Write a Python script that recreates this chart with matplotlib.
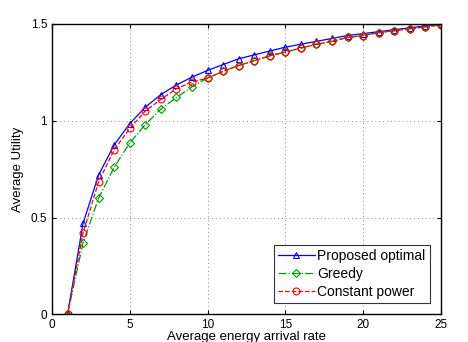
import numpy as np
import matplotlib.pyplot as plt

plt.rcParams['font.family'] = ['Liberation Sans', 'DejaVu Sans']

# energy arrival rate
rate = np.arange(1, 26)

proposed = [0, 0.47, 0.72, 0.875, 0.985, 1.07, 1.135, 1.185, 1.225, 1.26,
            1.29, 1.32, 1.34, 1.36, 1.38, 1.395, 1.41, 1.425, 1.44, 1.45,
            1.46, 1.47, 1.48, 1.49, 1.50]
greedy = [0, 0.37, 0.60, 0.76, 0.885, 0.98, 1.06, 1.12, 1.175, 1.22,
          1.255, 1.285, 1.31, 1.335, 1.355, 1.375, 1.395, 1.41, 1.43, 1.44,
          1.455, 1.465, 1.475, 1.485, 1.495]
constant = [0, 0.42, 0.685, 0.85, 0.96, 1.05, 1.11, 1.165, 1.20, 1.22,
            1.255, 1.285, 1.31, 1.335, 1.355, 1.375, 1.395, 1.41, 1.43, 1.44,
            1.455, 1.465, 1.475, 1.485, 1.495]

fig = plt.figure(figsize=(4.68, 3.42), dpi=100)
ax = fig.add_axes([0.111, 0.081, 0.831, 0.849])

ax.plot(rate, proposed, '-', color='#0000ff', lw=0.9, marker='^', ms=5,
        mfc='none', mew=0.8, label='Proposed optimal')
ax.plot(rate, greedy, '-.', color='#009900', lw=0.9, marker='D', ms=4,
        mfc='none', mew=0.8, label='Greedy')
ax.plot(rate, constant, '--', color='#ff0000', lw=0.9, marker='o', ms=5,
        mfc='none', mew=0.8, label='Constant power')

ax.set_xlim(0, 25)
ax.set_ylim(0, 1.5)
ax.set_xticks([0, 5, 10, 15, 20, 25])
ax.set_yticks([0, 0.5, 1, 1.5])
ax.set_yticklabels(['0', '0.5', '1', '1.5'])
ax.tick_params(direction='in', top=True, right=True, labelsize=8.5, length=3)
ax.grid(True, linestyle=(0, (1, 3)), color='#888888', lw=0.7)
for s in ax.spines.values():
    s.set_linewidth(1.0)

ax.set_xlabel('Average energy arrival rate', fontsize=9.5, labelpad=0)
ax.set_ylabel('Average Utility', fontsize=9.5, labelpad=5)

leg = ax.legend(loc='lower right', fontsize=10, frameon=True, fancybox=False,
                edgecolor='black', borderaxespad=0.8, handlelength=2.6,
                numpoints=1, labelspacing=0.3, borderpad=0.3,
                handletextpad=0.2)
leg.get_frame().set_linewidth(0.8)

fig.savefig('out.png', dpi=100)
